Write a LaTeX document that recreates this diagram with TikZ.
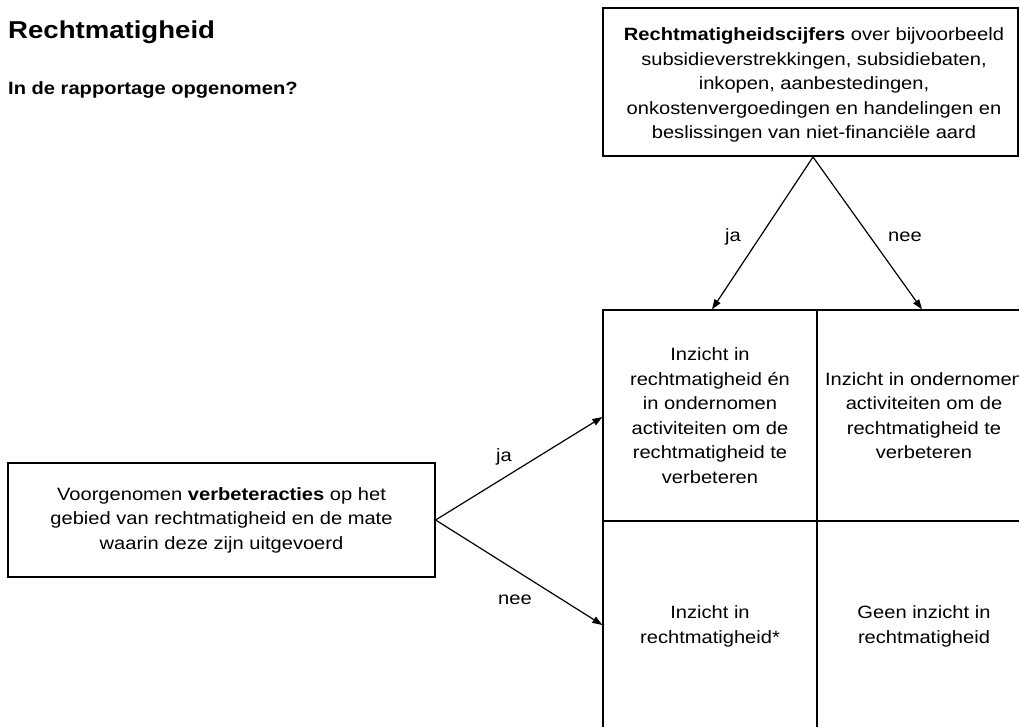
\documentclass[tikz,border=0pt]{standalone}
\usepackage{fontspec}
\setmainfont[FakeStretch=1.13]{Liberation Sans}
\usetikzlibrary{arrows.meta}
\tikzset{
  box/.style={draw, line width=1.2pt, rectangle, inner sep=0pt, align=center,
              font=\fontsize{17.8}{24.5}\selectfont},
  cell/.style={box, minimum width=214pt, minimum height=211pt},
  conn/.style={line width=1.2pt, -{Triangle[length=10pt,width=7pt]}},
  lbl/.style={font=\fontsize{17.8}{24.5}\selectfont, inner sep=0pt},
}
\begin{document}
\begin{tikzpicture}[x=1pt,y=-1pt]
\useasboundingbox (0,0) rectangle (1019,727);
\node[anchor=base west, inner sep=0pt, font=\fontsize{24.4}{28}\selectfont\bfseries] (title) at (8,39) {Rechtmatigheid};
\node[anchor=base west, inner sep=0pt, font=\fontsize{17.8}{24.5}\selectfont\bfseries] (sub) at (8,95) {In de rapportage opgenomen?};
\node[box, minimum width=415pt, minimum height=148pt] (top) at (810.5,82) {};
\node[lbl, align=center] (toptext) at (814,85) {\textbf{Rechtmatigheidscijfers} over bijvoorbeeld\\subsidieverstrekkingen, subsidiebaten,\\inkopen, aanbestedingen,\\onkostenvergoedingen en handelingen en\\beslissingen van niet-financiële aard};
\coordinate (apex) at (813,157);
\node[cell] (tl) at (710,415.5) {Inzicht in\\rechtmatigheid én\\in ondernomen\\activiteiten om de\\rechtmatigheid te\\verbeteren};
\node[cell] (tr) at (924,415.5) {Inzicht in ondernomen\\activiteiten om de\\rechtmatigheid te\\verbeteren};
\node[cell] (bl) at (710,626.5) {Inzicht in\\rechtmatigheid*};
\node[cell] (br) at (924,626.5) {Geen inzicht in\\rechtmatigheid};
\node[box, minimum width=427pt, minimum height=114pt] (lb) at (221.5,520) {Voorgenomen \textbf{verbeteracties} op het\\gebied van rechtmatigheid en de mate\\waarin deze zijn uitgevoerd};
\draw[conn] (apex) -- ([xshift=2pt]tl.north);
\draw[conn] (apex) -- ([xshift=-2pt]tr.north);
\draw[conn] (lb.east) -- ([yshift=-1.5pt]tl.west);
\draw[conn] (lb.east) -- ([yshift=1.5pt]bl.west);
\node[lbl] (ja1) at (733,237) {ja};
\node[lbl] (nee1) at (905,237) {nee};
\node[lbl] (ja2) at (504,457) {ja};
\node[lbl] (nee2) at (515,600) {nee};
\end{tikzpicture}
\end{document}
